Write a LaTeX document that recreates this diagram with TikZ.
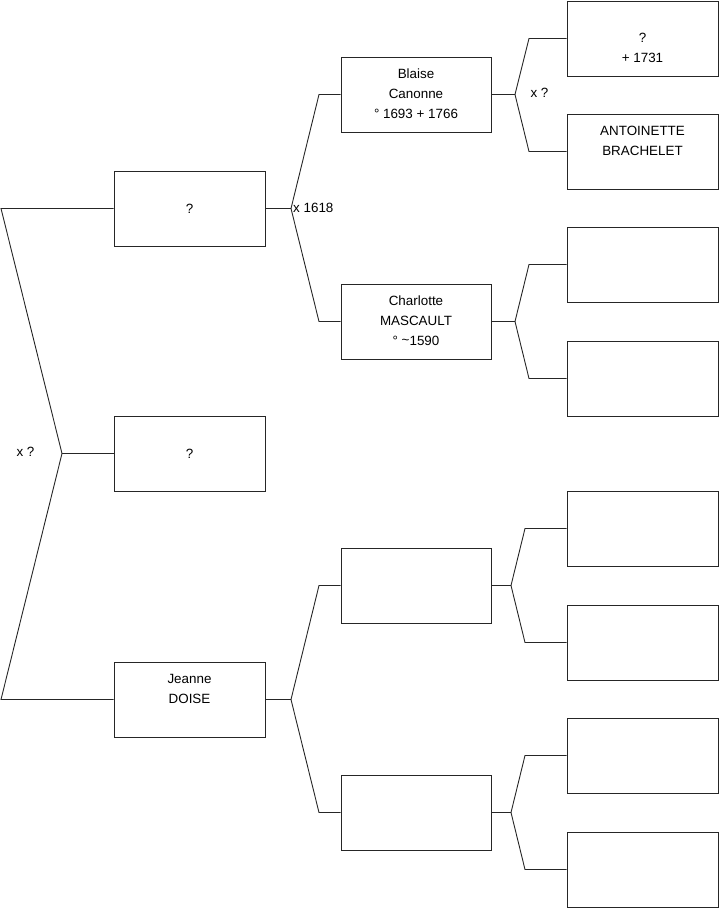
\documentclass[tikz,border=0pt]{standalone}
\usepackage{fontspec}
\setmainfont{Liberation Sans}
\begin{document}
\begin{tikzpicture}[x=1pt,y=-1pt,
  pbox/.style={draw=black!85,line width=0.9pt,minimum width=151pt,minimum height=75pt,inner sep=0pt,align=center,font=\fontsize{13.4}{20}\selectfont},
  conn/.style={draw=black!85,line width=0.9pt},
  lbl/.style={font=\fontsize{13.4}{15}\selectfont,inner sep=0pt}]
\useasboundingbox (0,0) rectangle (719,908);
% column 1
\node[pbox] (q1) at (189.5,208.5) {?};
\node[pbox] (q2) at (189.5,453.5) {?};
\node[pbox] (jeanne) at (189.5,699.5) {\strut Jeanne\\\strut DOISE\\\strut};
% column 2
\node[pbox,minimum width=150pt] (blaise) at (416,94.5) {\strut Blaise\\\strut Canonne\\\strut ° 1693 + 1766};
\node[pbox,minimum width=150pt] (charlotte) at (416,321.5) {\strut Charlotte\\\strut MASCAULT\\\strut ° \raisebox{0.2ex}{\char`~}1590};
\node[pbox,minimum width=150pt] (c23) at (416,585.5) {};
\node[pbox,minimum width=150pt] (c24) at (416,812.5) {};
% column 3
\node[pbox] (d1) at (642.5,38.5) {\strut\\\strut ?\\\strut + 1731};
\node[pbox] (d2) at (642.5,151.5) {\strut ANTOINETTE\\\strut BRACHELET\\\strut};
\node[pbox] (d3) at (642.5,264.5) {};
\node[pbox] (d4) at (642.5,378.5) {};
\node[pbox] (d5) at (642.5,528.5) {};
\node[pbox] (d6) at (642.5,642.5) {};
\node[pbox] (d7) at (642.5,755.5) {};
\node[pbox] (d8) at (642.5,869.5) {};
% junction coordinates
\coordinate (ja) at (1,208.5);
\coordinate (j0) at (62,453.5);
\coordinate (jb) at (1,699.5);
\coordinate (j1) at (291,208.5);
\coordinate (k1) at (319,94.5);
\coordinate (k2) at (319,321.5);
\coordinate (j2) at (291,699.5);
\coordinate (k3) at (319,585.5);
\coordinate (k4) at (319,812.5);
\coordinate (j3) at (515,94.5);
\coordinate (m1) at (529,38.5);
\coordinate (m2) at (529,151.5);
\coordinate (j4) at (515,321.5);
\coordinate (m3) at (529,264.5);
\coordinate (m4) at (529,378.5);
\coordinate (j5) at (511,585.5);
\coordinate (m5) at (525,528.5);
\coordinate (m6) at (525,642.5);
\coordinate (j6) at (511,812.5);
\coordinate (m7) at (525,755.5);
\coordinate (m8) at (525,869.5);
% connectors
\draw[conn] (q1.west) -- (ja) -- (j0) -- (jb) -- (jeanne.west);
\draw[conn] (j0) -- (q2.west);
\draw[conn] (q1.east) -- (j1);
\draw[conn] (blaise.west) -- (k1) -- (j1) -- (k2) -- (charlotte.west);
\draw[conn] (jeanne.east) -- (j2);
\draw[conn] (c23.west) -- (k3) -- (j2) -- (k4) -- (c24.west);
\draw[conn] (blaise.east) -- (j3);
\draw[conn] (d1.west) -- (m1) -- (j3) -- (m2) -- (d2.west);
\draw[conn] (charlotte.east) -- (j4);
\draw[conn] (d3.west) -- (m3) -- (j4) -- (m4) -- (d4.west);
\draw[conn] (c23.east) -- (j5);
\draw[conn] (d5.west) -- (m5) -- (j5) -- (m6) -- (d6.west);
\draw[conn] (c24.east) -- (j6);
\draw[conn] (d7.west) -- (m7) -- (j6) -- (m8) -- (d8.west);
% labels
\node[lbl] (l0) at (25.5,452) {x ?};
\node[lbl,anchor=west] (l1) at (293,208) {x 1618};
\node[lbl] (l2) at (539.5,93) {x ?};
\end{tikzpicture}
\end{document}
